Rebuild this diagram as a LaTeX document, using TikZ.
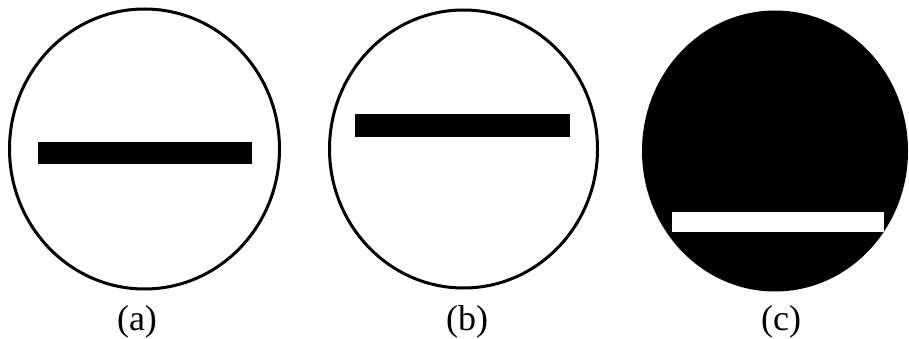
\documentclass[tikz,border=0pt]{standalone}
\usepackage{fontspec}
\setmainfont{Liberation Serif}
\begin{document}
\begin{tikzpicture}[x=1pt,y=-1pt,
  rim/.style={line width=3pt,draw=black,fill=white},
  lbl/.style={font=\fontsize{36}{40}\selectfont,inner sep=0pt,anchor=base}]
\useasboundingbox[fill=white] (0,0) rectangle (909,339);
% (a)
\draw[rim] (144.5,149) ellipse [x radius=135, y radius=140];
\fill[black] (38,142) rectangle (252,164);
\node[lbl] (la) at (137,330) {(a)};
% (b)
\draw[rim] (463.5,149) ellipse [x radius=134, y radius=139];
\fill[black] (355,114) rectangle (570,137);
\node[lbl] (lb) at (467,330) {(b)};
% (c)
\fill[black] (775,151) ellipse [x radius=133, y radius=140.5];
\fill[white] (672,212) rectangle (884,232);
\node[lbl] (lc) at (781,330) {(c)};
\end{tikzpicture}
\end{document}
